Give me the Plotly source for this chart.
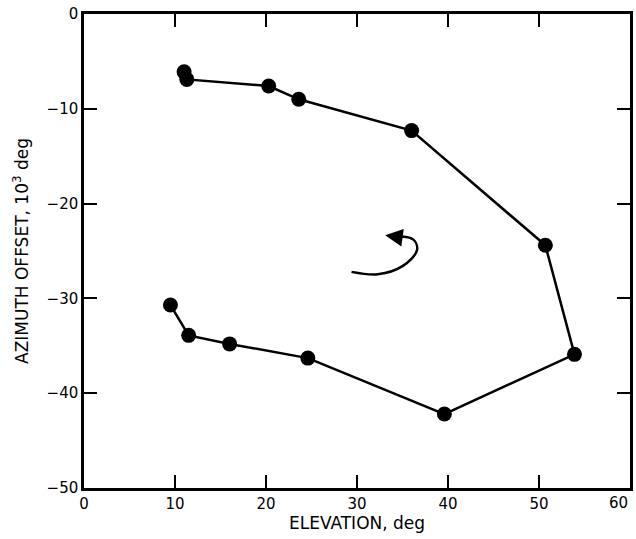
import plotly.graph_objects as go

elevation = [11.0, 11.3, 20.3, 23.6, 36.0, 50.7, 53.9, 39.6, 24.6, 16.0, 11.5, 9.5]
azimuth_offset = [-6.1, -6.9, -7.6, -9.0, -12.3, -24.4, -35.9, -42.2, -36.3, -34.8, -33.9, -30.7]

x_ticks = [0, 10, 20, 30, 40, 50, 60]
x_tick_labels = ["0", "10", "20", "30", "40", "50", ""]
edge_label = "60"
y_ticks = [-50, -40, -30, -20, -10, 0]

# rotation-direction arrow (curve points in data units)
arrow_x = [29.4, 32.3, 35.0, 36.6, 36.2, 34.6]
arrow_y = [-27.2, -27.45, -26.6, -24.9, -23.8, -23.45]

font = "DejaVu Sans"

fig = go.Figure()
fig.add_trace(go.Scatter(
    x=elevation, y=azimuth_offset, mode="lines+markers",
    line=dict(color="black", width=2.5),
    marker=dict(color="black", size=15),
    showlegend=False, hoverinfo="skip"))

fig.add_trace(go.Scatter(
    x=arrow_x, y=arrow_y, mode="lines",
    line=dict(color="black", width=2.5, shape="spline"),
    showlegend=False, hoverinfo="skip"))

fig.add_annotation(
    x=33.1, y=-23.35, ax=35.0, ay=-23.6,
    xref="x", yref="y", axref="x", ayref="y",
    showarrow=True, arrowhead=2, arrowsize=1.4, arrowwidth=2.5,
    arrowcolor="black", text="")

# last x tick label, kept inside the figure like the reference
fig.add_annotation(
    x=60, y=0, xref="x", yref="paper", yshift=-4,
    xanchor="right", yanchor="top", showarrow=False,
    text=edge_label, font=dict(family=font, size=15, color="black"))

axis_common = dict(
    showline=True, linecolor="black", linewidth=2.5, mirror="ticks",
    ticks="inside", ticklen=13, tickwidth=2, tickcolor="black",
    showgrid=False, zeroline=False,
    tickfont=dict(family=font, size=15, color="black"))

fig.update_xaxes(range=[0, 60], tickvals=x_ticks, ticktext=x_tick_labels,
                 title=dict(text="ELEVATION, deg", font=dict(family=font, size=17, color="black"), standoff=3),
                 **axis_common)
fig.update_yaxes(range=[-50, 0], tickvals=y_ticks,
                 title=dict(text="AZIMUTH OFFSET, 10<sup>3</sup> deg", font=dict(family=font, size=17, color="black"), standoff=14),
                 **axis_common)

fig.update_layout(
    width=636, height=539,
    margin=dict(l=84, r=3, t=14, b=51),
    paper_bgcolor="white", plot_bgcolor="white",
    font=dict(family=font, color="black"))

fig.write_html("out.html")
